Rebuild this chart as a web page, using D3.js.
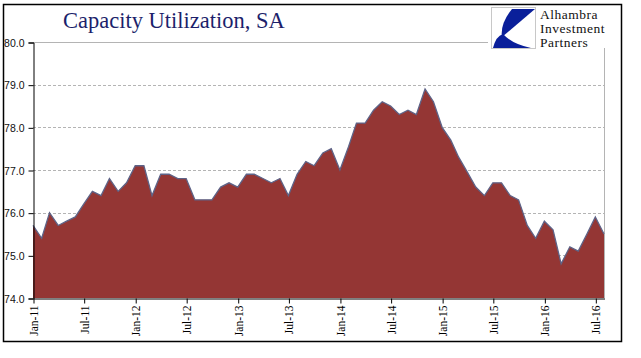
<!DOCTYPE html>
<html>
<head>
<meta charset="utf-8">
<script src="https://cdnjs.cloudflare.com/ajax/libs/d3/7.8.5/d3.min.js"></script>
<style>
body { margin: 0; background: #fff; }
</style>
</head>
<body>
<div id="svg"></div>
<script>
// monthly capacity utilization, Jan-11 .. Aug-16
let startMonth = '2011-01'
let values = [
	75.7, 75.4, 76.0, 75.7, 75.8, 75.9, 76.2, 76.5, 76.4, 76.8, 76.5, 76.7,
	77.1, 77.1, 76.4, 76.9, 76.9, 76.8, 76.8, 76.3, 76.3, 76.3, 76.6, 76.7,
	76.6, 76.9, 76.9, 76.8, 76.7, 76.8, 76.4, 76.9, 77.2, 77.1, 77.4, 77.5,
	77.0, 77.55, 78.1, 78.1, 78.4, 78.6, 78.5, 78.3, 78.4, 78.3, 78.9, 78.6,
	78.0, 77.7, 77.3, 76.95, 76.6, 76.4, 76.7, 76.7, 76.4, 76.3, 75.7, 75.4,
	75.8, 75.6, 74.8, 75.2, 75.1, 75.5, 75.9, 75.5
]
let yTicks = [74, 75, 76, 77, 78, 79, 80]
let xTickLabels = ['Jan-11', 'Jul-11', 'Jan-12', 'Jul-12', 'Jan-13', 'Jul-13', 'Jan-14', 'Jul-14', 'Jan-15', 'Jul-15', 'Jan-16', 'Jul-16']
let titleText = 'Capacity Utilization, SA'
let logoLines = ['Alhambra', 'Investment', 'Partners']

let W = 641, H = 358
let plot = {left: 33, right: 604, top: 42, bottom: 298}

let parseMonth = d3.timeParse('%Y-%m')
let fmt = d3.timeFormat('%b-%y')
let start = parseMonth(startMonth)
let data = values.map((v, i) => ({date: d3.timeMonth.offset(start, i), value: v}))

let svg = d3.select('#svg')
.append('svg')
.attr('width', W)
.attr('height', H)

let x = d3.scaleTime()
.domain(d3.extent(data, d => d.date))
.range([plot.left, plot.right])

let y = d3.scaleLinear()
.domain([74, 80])
.range([plot.bottom, plot.top])

// outer frame
svg.append('rect')
.attr('x', 3.5).attr('y', 4.5)
.attr('width', 618).attr('height', 337)
.style('fill', 'none')
.style('stroke', '#000')
.style('stroke-width', 1.5)

// gridlines
svg.selectAll('.grid')
.data(yTicks.filter(t => t > 74 && t < 80))
.join('line')
.attr('class', 'grid')
.attr('x1', plot.left).attr('x2', plot.right)
.attr('y1', d => Math.round(y(d)) + 0.5).attr('y2', d => Math.round(y(d)) + 0.5)
.style('stroke', '#b4b4b4')
.style('stroke-dasharray', '3,2')
.style('stroke-width', 1)

// top solid line and right border
svg.append('line')
.attr('x1', plot.left).attr('x2', 488)
.attr('y1', plot.top + 0.5).attr('y2', plot.top + 0.5)
.style('stroke', '#b4b4b4')
svg.append('line')
.attr('x1', plot.right + 0.5).attr('x2', plot.right + 0.5)
.attr('y1', 48).attr('y2', plot.bottom)
.style('stroke', '#b4b4b4')

// area
let area = d3.area()
.x(d => x(d.date))
.y0(plot.bottom)
.y1(d => y(d.value))

svg.append('path')
.datum(data)
.attr('d', area)
.style('fill', '#943634')

let line = d3.line()
.x(d => x(d.date))
.y(d => y(d.value))

svg.append('path')
.datum(data)
.attr('d', line)
.style('fill', 'none')
.style('stroke', '#5e6387')
.style('stroke-width', 1.3)

// y axis
let yAxis = svg.append('g')
.attr('transform', `translate(${plot.left + 0.5}, 0.5)`)
.call(d3.axisLeft(y).tickValues(yTicks).tickFormat(d3.format('.1f')).tickSize(5).tickPadding(4))
yAxis.select('.domain').attr('stroke', '#000')
yAxis.selectAll('text')
.style('font-family', 'Liberation Sans, Arial, sans-serif')
.style('font-size', '10.5px')
.style('fill', '#111')
.attr('dy', '0.35em')

// x axis
let xTicks = xTickLabels.map(s => d3.timeParse('%b-%y')(s))
let xAxis = svg.append('g')
.attr('transform', `translate(0.5, ${plot.bottom + 0.5})`)
.call(d3.axisBottom(x).tickValues(xTicks).tickFormat(fmt).tickSize(5).tickSizeOuter(0))
xAxis.select('.domain').attr('stroke', '#000')
xAxis.selectAll('text')
.attr('transform', 'rotate(-90)')
.attr('x', -7)
.attr('y', 0)
.attr('dy', '0.35em')
.style('text-anchor', 'end')
.style('font-family', 'Liberation Serif, Times New Roman, serif')
.style('font-size', '11.5px')
.style('fill', '#000')

// title
svg.append('text')
.text(titleText)
.attr('x', 63)
.attr('y', 28)
.style('font-family', 'Liberation Serif, Times New Roman, serif')
.style('font-size', '22.5px')
.style('fill', '#1c1f6b')

// logo
let logo = svg.append('g')
logo.append('rect')
.attr('x', 491.5).attr('y', 7.5)
.attr('width', 44).attr('height', 41)
.style('fill', '#fff')
.style('stroke', '#c8c8c8')
logo.append('path')
.attr('d', 'M512,9 L535,9 L502,37 Q500,24 512,9 Z')
.style('fill', '#0a1f9a')
logo.append('path')
.attr('d', 'M493,48 Q496,36 503,34 Q512,44 531,48 Z')
.style('fill', '#0a1f9a')

logo.selectAll('.logo-text')
.data(logoLines)
.join('text')
.attr('class', 'logo-text')
.text(d => d)
.attr('x', 540)
.attr('y', (d, i) => 19 + i * 14)
.style('font-family', 'Liberation Serif, Times New Roman, serif')
.style('font-size', '13.5px')
.style('letter-spacing', '0.5px')
.style('fill', '#111')
</script>
</body>
</html>
